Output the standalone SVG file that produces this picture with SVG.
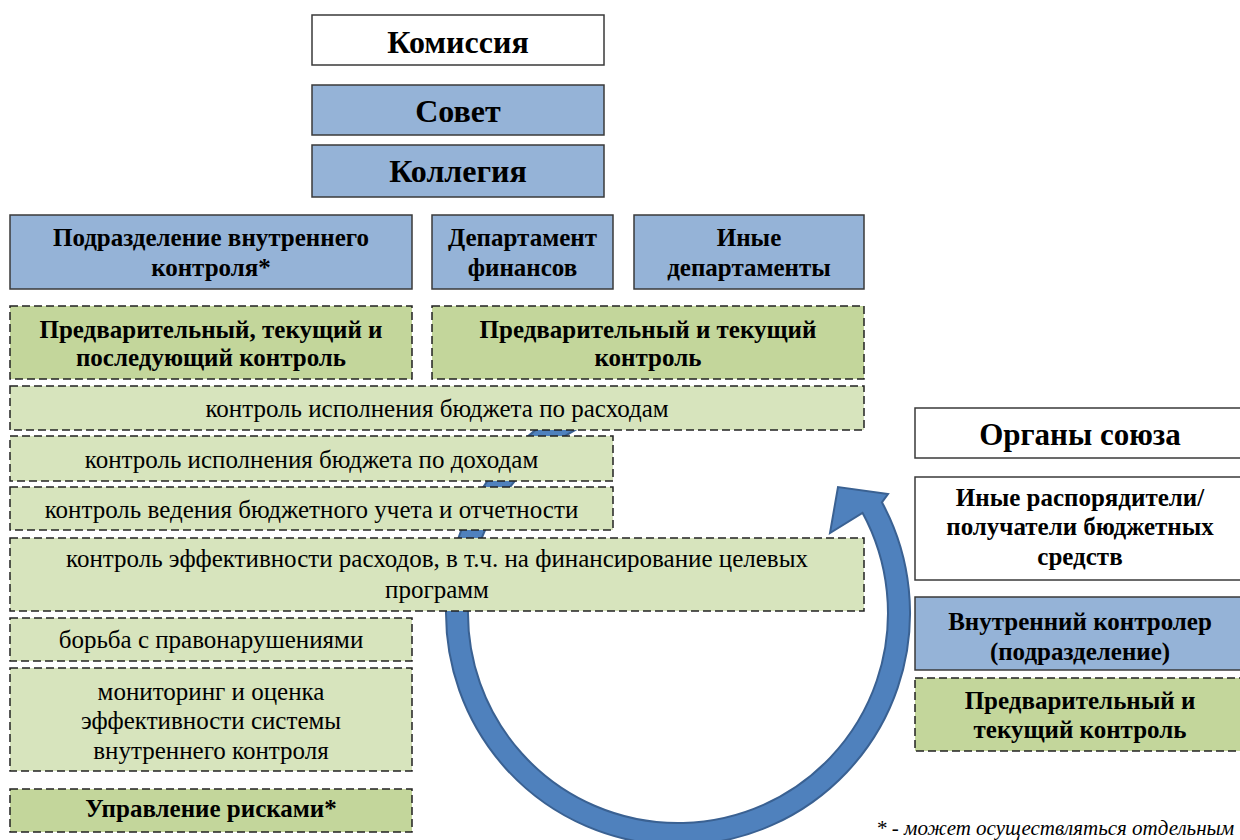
<svg xmlns="http://www.w3.org/2000/svg" width="1240" height="840" viewBox="0 0 1240 840">
  <style>
    .w { fill: #ffffff; stroke: #3a3a3a; stroke-width: 1.5; }
    .b { fill: #95b3d7; stroke: #3a3a3a; stroke-width: 1.5; }
    .g { fill: #c3d69b; stroke: #222222; stroke-width: 1.5; stroke-dasharray: 8 4; }
    .lg { fill: #d7e4bd; stroke: #222222; stroke-width: 1.5; stroke-dasharray: 8 4; }
    text { font-family: "Liberation Serif", "Times New Roman", serif; text-anchor: middle; fill: #000000; }
    .t1 { font-size: 32px; font-weight: bold; }
    .t2 { font-size: 25px; font-weight: bold; }
    .t3 { font-size: 31px; font-weight: bold; }
    .r { font-size: 25px; }
    .note { font-size: 21px; font-style: italic; text-anchor: start; }
    .ring { fill: #4f81bd; stroke: #3a6192; stroke-width: 2; stroke-linejoin: miter; }
  </style>

  <!-- circular cycle arrow, drawn first so the boxes sit on top of it -->
  <g id="connectors">
    <path class="ring" d="M 618,388.9 A 232 232 0 1 0 881.9,502.3 L 888,494 L 838,487 L 830,533 L 862.5,512.8 A 210 210 0 1 1 623.6,410.2 Z"/>
  </g>

  <!-- top governing bodies -->
  <g id="komissiya">
    <rect class="w" x="312" y="15" width="292" height="50"/>
    <text class="t1" x="458" y="53">Комиссия</text>
  </g>
  <g id="sovet">
    <rect class="b" x="312" y="85" width="292" height="50"/>
    <text class="t1" x="458" y="122">Совет</text>
  </g>
  <g id="kollegiya">
    <rect class="b" x="312" y="145" width="292" height="52"/>
    <text class="t1" x="458" y="182">Коллегия</text>
  </g>

  <!-- departments -->
  <g id="podrazdelenie">
    <rect class="b" x="10" y="215" width="402" height="74"/>
    <text class="t2" x="211" y="246">Подразделение внутреннего</text>
    <text class="t2" x="211" y="276">контроля*</text>
  </g>
  <g id="dep-finansov">
    <rect class="b" x="432" y="215" width="181" height="74"/>
    <text class="t2" x="522.5" y="246">Департамент</text>
    <text class="t2" x="522.5" y="276">финансов</text>
  </g>
  <g id="inye-dep">
    <rect class="b" x="634" y="215" width="230" height="74"/>
    <text class="t2" x="749" y="246">Иные</text>
    <text class="t2" x="749" y="276">департаменты</text>
  </g>

  <!-- kinds of control -->
  <g id="kontrol-vnutr">
    <rect class="g" x="10" y="306" width="402" height="73"/>
    <text class="t2" x="211" y="338">Предварительный, текущий и</text>
    <text class="t2" x="211" y="366">последующий контроль</text>
  </g>
  <g id="kontrol-fin">
    <rect class="g" x="432" y="306" width="432" height="73"/>
    <text class="t2" x="648" y="338">Предварительный и текущий</text>
    <text class="t2" x="648" y="366">контроль</text>
  </g>

  <!-- control functions -->
  <g id="f-rashody">
    <rect class="lg" x="10" y="386" width="854" height="44"/>
    <text class="r" x="437" y="417">контроль исполнения бюджета по расходам</text>
  </g>
  <g id="f-dohody">
    <rect class="lg" x="10" y="436" width="603" height="45"/>
    <text class="r" x="311.5" y="468">контроль исполнения бюджета по доходам</text>
  </g>
  <g id="f-uchet">
    <rect class="lg" x="10" y="487" width="603" height="43"/>
    <text class="r" x="311.5" y="518">контроль ведения бюджетного учета и отчетности</text>
  </g>
  <g id="f-effekt">
    <rect class="lg" x="10" y="538" width="854" height="73"/>
    <text class="r" x="437" y="567">контроль эффективности расходов, в т.ч. на финансирование целевых</text>
    <text class="r" x="437" y="598">программ</text>
  </g>
  <g id="f-pravonar">
    <rect class="lg" x="10" y="618" width="402" height="43"/>
    <text class="r" x="211" y="648">борьба с правонарушениями</text>
  </g>
  <g id="f-monitoring">
    <rect class="lg" x="10" y="668" width="402" height="103"/>
    <text class="r" x="211" y="700">мониторинг и оценка</text>
    <text class="r" x="211" y="729">эффективности системы</text>
    <text class="r" x="211" y="759">внутреннего контроля</text>
  </g>
  <g id="upr-riskami">
    <rect class="g" x="10" y="789" width="402" height="43"/>
    <text class="t2" x="211" y="817">Управление рисками*</text>
  </g>

  <!-- union bodies column -->
  <g id="organy">
    <rect class="w" x="915" y="408" width="340" height="50"/>
    <text class="t3" x="1080" y="445">Органы союза</text>
  </g>
  <g id="rasporyaditeli">
    <rect class="w" x="915" y="477" width="340" height="103"/>
    <text class="t2" x="1080" y="506">Иные распорядители/</text>
    <text class="t2" x="1080" y="535">получатели бюджетных</text>
    <text class="t2" x="1080" y="565">средств</text>
  </g>
  <g id="vnutr-kontroler">
    <rect class="b" x="915" y="597" width="340" height="73"/>
    <text class="t2" x="1080" y="630">Внутренний  контролер</text>
    <text class="t2" x="1080" y="660">(подразделение)</text>
  </g>
  <g id="kontrol-organy">
    <rect class="g" x="915" y="678" width="340" height="73"/>
    <text class="t2" x="1080" y="709">Предварительный и</text>
    <text class="t2" x="1080" y="738">текущий контроль</text>
  </g>

  <text class="note" x="876" y="835">* - может осуществляться отдельным</text>
</svg>
